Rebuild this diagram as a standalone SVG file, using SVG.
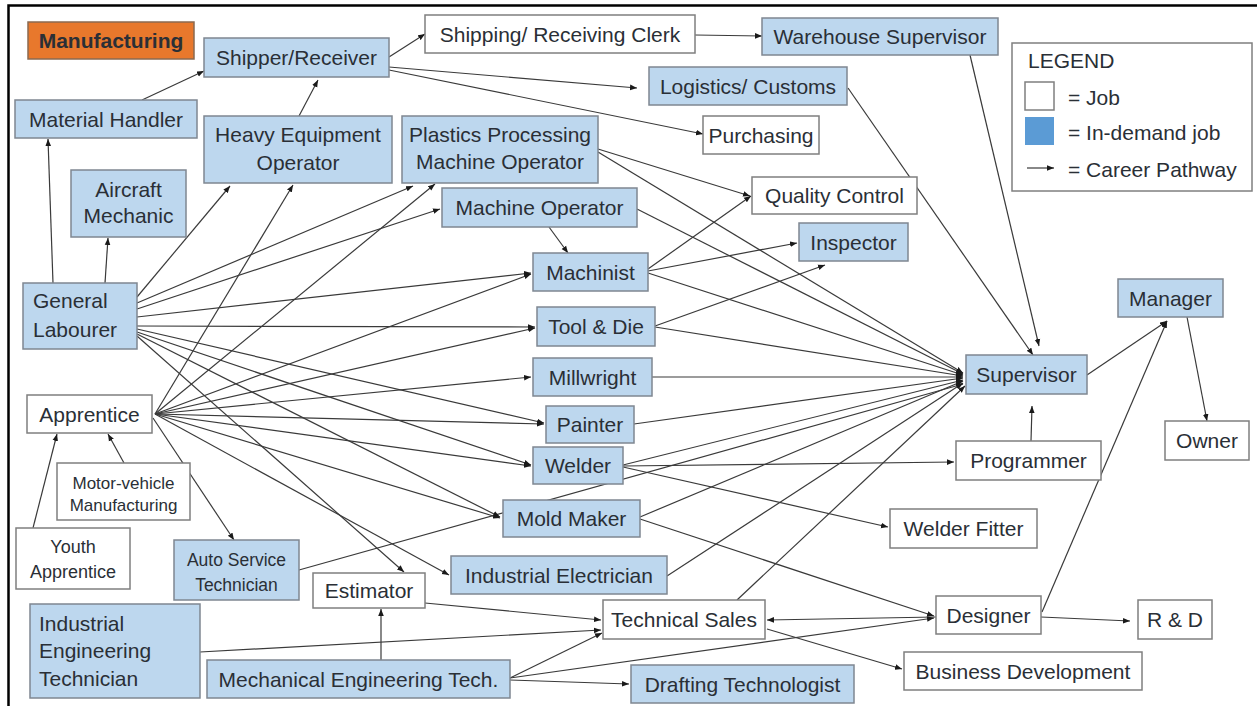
<svg xmlns="http://www.w3.org/2000/svg" width="1257" height="706" viewBox="0 0 1257 706">
<defs>
<marker id="ah" viewBox="0 0 10 10" refX="10" refY="5" markerWidth="7" markerHeight="7" markerUnits="userSpaceOnUse" orient="auto"><path d="M0,1 L10,5 L0,9 z" fill="#1a1a1a"/></marker>
<style>
.b{fill:#BDD7EE;stroke:#7f8791;stroke-width:1.5}
.w{fill:#ffffff;stroke:#7f7f7f;stroke-width:1.5}
.o{fill:#E8782C;stroke:#8a6a50;stroke-width:1.5}
text{font-family:"Liberation Sans",Arial,sans-serif;font-size:21px;fill:#2a2f36}
.c{text-anchor:middle}
.s16{font-size:17px}
.s17{font-size:17.5px}
.s18{font-size:18px}
#edges line{stroke:#3a3a3a;stroke-width:1.2;marker-end:url(#ah)}
</style>
</defs>
<rect x="0" y="0" width="1257" height="706" fill="#ffffff"/>
<path d="M8.5,706 L8.5,5.5 L1257,5.5" fill="none" stroke="#000" stroke-width="2.5"/>

<g id="edges">
<line x1="142" y1="100" x2="204" y2="71"/>
<line x1="299" y1="116" x2="318" y2="80"/>
<line x1="389" y1="57" x2="425" y2="34"/>
<line x1="389" y1="67" x2="637" y2="88"/>
<line x1="389" y1="70" x2="703" y2="134"/>
<line x1="695" y1="35" x2="762" y2="36"/>
<line x1="970" y1="55" x2="1039" y2="346"/>
<line x1="848" y1="88" x2="1033" y2="355"/>
<line x1="598" y1="149" x2="750" y2="196"/>
<line x1="598" y1="152" x2="963" y2="373"/>
<line x1="549" y1="227" x2="568" y2="253"/>
<line x1="637" y1="209" x2="963" y2="374"/>
<line x1="648" y1="269" x2="751" y2="196"/>
<line x1="648" y1="271" x2="797" y2="243"/>
<line x1="648" y1="273" x2="963" y2="375"/>
<line x1="655" y1="326" x2="825" y2="265"/>
<line x1="655" y1="327" x2="963" y2="376"/>
<line x1="652" y1="377" x2="963" y2="377"/>
<line x1="634" y1="424" x2="963" y2="378"/>
<line x1="623" y1="465" x2="963" y2="380"/>
<line x1="623" y1="466" x2="954" y2="462"/>
<line x1="623" y1="467" x2="888" y2="527"/>
<line x1="640" y1="517" x2="963" y2="381"/>
<line x1="640" y1="519" x2="934" y2="616"/>
<line x1="667" y1="576" x2="963" y2="383"/>
<line x1="737" y1="600" x2="965" y2="386"/>
<line x1="767" y1="629" x2="902" y2="669"/>
<line x1="936" y1="617" x2="767" y2="620"/>
<line x1="1041" y1="617" x2="1130" y2="621"/>
<line x1="1042" y1="612" x2="1167" y2="321"/>
<line x1="1031" y1="441" x2="1032" y2="406"/>
<line x1="1087" y1="375" x2="1167" y2="321"/>
<line x1="1187" y1="317" x2="1207" y2="421"/>
<line x1="381" y1="660" x2="381" y2="609"/>
<line x1="510" y1="678" x2="602" y2="633"/>
<line x1="510" y1="680" x2="629" y2="684"/>
<line x1="510" y1="678" x2="934" y2="618"/>
<line x1="200" y1="652" x2="601" y2="630"/>
<line x1="425" y1="603" x2="601" y2="620"/>
<line x1="33" y1="528" x2="57" y2="434"/>
<line x1="124" y1="463" x2="108" y2="434"/>
<line x1="153" y1="418" x2="234" y2="540"/>
<line x1="299" y1="570" x2="963" y2="384"/>
<line x1="53" y1="283" x2="48" y2="139"/>
<line x1="105" y1="283" x2="108" y2="238"/>
<line x1="137" y1="297" x2="230" y2="186"/>
<line x1="137" y1="303" x2="413" y2="186"/>
<line x1="137" y1="309" x2="440" y2="209"/>
<line x1="137" y1="317" x2="531" y2="273"/>
<line x1="137" y1="326" x2="535" y2="327"/>
<line x1="137" y1="329" x2="544" y2="423"/>
<line x1="137" y1="332" x2="531" y2="465"/>
<line x1="137" y1="334" x2="500" y2="517"/>
<line x1="137" y1="336" x2="404" y2="572"/>
<line x1="155" y1="414" x2="293" y2="185"/>
<line x1="155" y1="414" x2="435" y2="184"/>
<line x1="155" y1="414" x2="531" y2="274"/>
<line x1="155" y1="414" x2="535" y2="328"/>
<line x1="155" y1="414" x2="531" y2="377"/>
<line x1="155" y1="414" x2="544" y2="424"/>
<line x1="155" y1="414" x2="531" y2="466"/>
<line x1="155" y1="414" x2="500" y2="518"/>
<line x1="155" y1="414" x2="449" y2="575"/>
</g>

<g id="n-manufacturing"><rect class="o" x="28" y="22" width="166" height="37"/><text class="c" x="111" y="48" font-weight="bold" fill="#2b2018">Manufacturing</text></g>
<g id="n-shipper"><rect class="b" x="204" y="38" width="185" height="39"/><text class="c" x="296.5" y="65">Shipper/Receiver</text></g>
<g id="n-material"><rect class="b" x="15" y="100" width="182" height="38"/><text class="c" x="106" y="126.5">Material Handler</text></g>
<g id="n-heavy"><rect class="b" x="204" y="116" width="188" height="67"/><text class="c" x="298" y="142">Heavy Equipment</text><text class="c" x="298" y="170">Operator</text></g>
<g id="n-aircraft"><rect class="b" x="71" y="170" width="115" height="67"/><text class="c" x="128.5" y="197">Aircraft</text><text class="c" x="128.5" y="223">Mechanic</text></g>
<g id="n-plastics"><rect class="b" x="402" y="116" width="196" height="67"/><text class="c" x="500" y="142">Plastics Processing</text><text class="c" x="500" y="169">Machine Operator</text></g>
<g id="n-clerk"><rect class="w" x="425" y="15" width="270" height="38"/><text class="c" x="560" y="41.5">Shipping/ Receiving Clerk</text></g>
<g id="n-warehouse"><rect class="b" x="762" y="18" width="236" height="37"/><text class="c" x="880" y="44">Warehouse Supervisor</text></g>
<g id="n-logistics"><rect class="b" x="649" y="67" width="198" height="38"/><text class="c" x="748" y="93.5">Logistics/ Customs</text></g>
<g id="n-purchasing"><rect class="w" x="703" y="116" width="116" height="38"/><text class="c" x="761" y="142.5">Purchasing</text></g>
<g id="n-qc"><rect class="w" x="752" y="177" width="165" height="37"/><text class="c" x="834.5" y="203">Quality Control</text></g>
<g id="n-machop"><rect class="b" x="442" y="188" width="195" height="39"/><text class="c" x="539.5" y="215">Machine Operator</text></g>
<g id="n-inspector"><rect class="b" x="799" y="223" width="109" height="38"/><text class="c" x="853.5" y="249.5">Inspector</text></g>
<g id="n-machinist"><rect class="b" x="533" y="253" width="115" height="38"/><text class="c" x="590.5" y="279.5">Machinist</text></g>
<g id="n-tooldie"><rect class="b" x="537" y="307" width="118" height="39"/><text class="c" x="596" y="334">Tool &amp; Die</text></g>
<g id="n-millwright"><rect class="b" x="533" y="358" width="119" height="38"/><text class="c" x="592.5" y="384.5">Millwright</text></g>
<g id="n-painter"><rect class="b" x="546" y="406" width="88" height="37"/><text class="c" x="590" y="432">Painter</text></g>
<g id="n-welder"><rect class="b" x="533" y="447" width="90" height="37"/><text class="c" x="578" y="473">Welder</text></g>
<g id="n-moldmaker"><rect class="b" x="503" y="500" width="137" height="37"/><text class="c" x="571.5" y="526">Mold Maker</text></g>
<g id="n-indelec"><rect class="b" x="451" y="556" width="216" height="38"/><text class="c" x="559" y="582.5">Industrial Electrician</text></g>
<g id="n-techsales"><rect class="w" x="603" y="600" width="162" height="39"/><text class="c" x="684" y="627">Technical Sales</text></g>
<g id="n-drafting"><rect class="b" x="631" y="665" width="223" height="38"/><text class="c" x="742.5" y="691.5">Drafting Technologist</text></g>
<g id="n-supervisor"><rect class="b" x="966" y="355" width="121" height="39"/><text class="c" x="1026.5" y="382">Supervisor</text></g>
<g id="n-manager"><rect class="b" x="1118" y="279" width="105" height="38"/><text class="c" x="1170.5" y="305.5">Manager</text></g>
<g id="n-owner"><rect class="w" x="1165" y="421" width="84" height="39"/><text class="c" x="1207" y="448">Owner</text></g>
<g id="n-programmer"><rect class="w" x="956" y="441" width="145" height="39"/><text class="c" x="1028.5" y="468">Programmer</text></g>
<g id="n-welderfitter"><rect class="w" x="890" y="509" width="147" height="39"/><text class="c" x="963.5" y="536">Welder Fitter</text></g>
<g id="n-designer"><rect class="w" x="936" y="596" width="105" height="38"/><text class="c" x="988.5" y="622.5">Designer</text></g>
<g id="n-rd"><rect class="w" x="1138" y="600" width="74" height="39"/><text class="c" x="1175" y="627">R &amp; D</text></g>
<g id="n-busdev"><rect class="w" x="904" y="652" width="238" height="38"/><text class="c" x="1023" y="678.5">Business Development</text></g>
<g id="n-general"><rect class="b" x="23" y="283" width="114" height="66"/><text x="33" y="308">General</text><text x="33" y="337">Labourer</text></g>
<g id="n-apprentice"><rect class="w" x="27" y="395" width="125" height="38"/><text class="c" x="89.5" y="421.5">Apprentice</text></g>
<g id="n-motor"><rect class="w" x="57" y="463" width="133" height="57"/><text class="c s16" x="123.5" y="489">Motor-vehicle</text><text class="c s16" x="123.5" y="511">Manufacturing</text></g>
<g id="n-youth"><rect class="w" x="16" y="528" width="114" height="61"/><text class="c s18" x="73" y="553">Youth</text><text class="c s18" x="73" y="578">Apprentice</text></g>
<g id="n-autoservice"><rect class="b" x="174" y="540" width="125" height="60"/><text class="c s17" x="236.5" y="566">Auto Service</text><text class="c s17" x="236.5" y="591">Technician</text></g>
<g id="n-estimator"><rect class="w" x="313" y="573" width="112" height="35"/><text class="c" x="369" y="598">Estimator</text></g>
<g id="n-indengtech"><rect class="b" x="30" y="604" width="170" height="94"/><text x="39" y="631">Industrial</text><text x="39" y="658">Engineering</text><text x="39" y="686">Technician</text></g>
<g id="n-mechengtech"><rect class="b" x="207" y="660" width="303" height="38"/><text class="c" x="358.5" y="686.5">Mechanical Engineering Tech.</text></g>

<g id="legend">
<rect x="1012" y="43" width="240" height="148" fill="#fff" stroke="#7f7f7f" stroke-width="1.5"/>
<text x="1028" y="68">LEGEND</text>
<rect x="1025" y="82" width="29" height="28" fill="#fff" stroke="#7f7f7f" stroke-width="1.5"/>
<text x="1068" y="105">= Job</text>
<rect x="1025" y="117" width="29" height="28" fill="#5B9BD5"/>
<text x="1068" y="140">= In-demand job</text>
<line x1="1027" y1="168" x2="1054" y2="168" stroke="#3a3a3a" stroke-width="1.2" marker-end="url(#ah)"/>
<text x="1068" y="177">= Career Pathway</text>
</g>
</svg>
